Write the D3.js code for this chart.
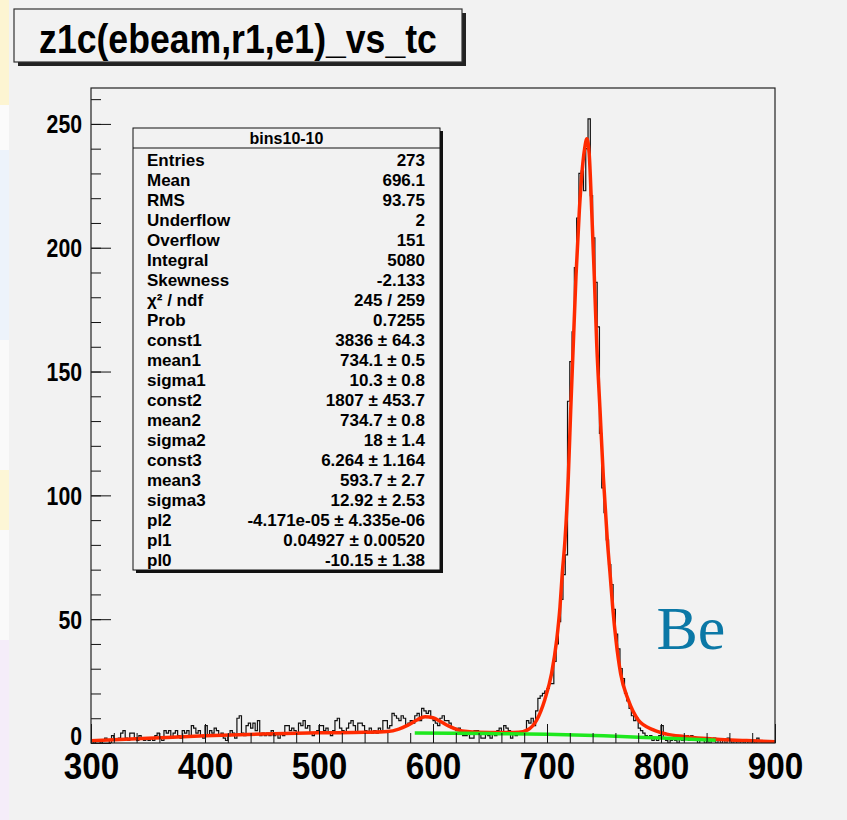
<!DOCTYPE html>
<html>
<head>
<meta charset="utf-8">
<script src="https://cdn.jsdelivr.net/npm/d3@7/dist/d3.min.js"></script>
<style>
  body { margin: 0; background: #fff; }
  text { font-family: 'Liberation Sans', Arial, Helvetica, sans-serif; }
</style>
</head>
<body>
<svg id="chart" width="847" height="820"></svg>
<script>
// histogram: 300 bins of width 2 between 300 and 900
const xMin = 300, xMax = 900, binWidth = 2;
const counts = [
  1,0,1,1,0,1,2,1,0,3,1,1,2,4,5,2,1,4,4,2,
  1,3,2,1,2,1,2,1,3,4,2,1,5,4,5,2,4,5,3,2,
  5,4,5,3,7,6,4,5,3,2,7,3,5,4,6,5,3,4,2,1,
  3,5,4,2,10,11,4,3,7,8,6,8,5,9,3,4,3,4,3,5,
  3,4,2,4,3,7,7,5,6,5,4,8,7,9,6,7,4,3,4,5,
  7,7,5,6,4,3,5,9,10,6,5,4,6,8,9,7,4,8,8,7,
  5,4,6,4,5,4,6,5,9,9,6,7,12,11,10,9,11,10,7,8,
  9,8,11,12,9,14,13,12,13,10,9,8,7,10,11,9,9,8,6,6,
  5,6,5,3,3,4,2,2,5,5,4,2,2,4,3,2,4,3,5,6,
  4,7,6,5,2,4,3,4,4,4,5,9,8,10,7,13,18,19,20,21,
  22,24,24,33,40,49,58,68,76,138,154,166,192,212,230,231,223,240,252,221,
  204,186,168,125,103,93,82,72,64,54,44,38,30,26,20,17,14,11,9,10,
  6,5,4,3,2,3,1,2,1,3,7,2,1,0,1,2,1,0,2,1,
  2,3,1,3,2,1,0,1,2,0,1,0,1,2,0,1,0,1,0,2,
  1,0,1,0,0,1,0,1,0,0,1,0,2,1,0,1,0,0,1,0
];

// total fit (red)
const fitX = [300, 350, 400, 450, 500, 540, 560, 570, 578, 586, 593, 600, 607, 614, 622, 630, 640, 660, 675, 683, 691, 698, 704, 708.5, 711.4, 713.4, 715.8, 718.7, 720.8, 723.1, 725.4, 728.4, 731, 733, 735, 737, 739.2, 741.5, 743.6, 746.5, 749.4, 752.9, 755.3, 757.6, 760.5, 764.6, 771.3, 780.1, 793.3, 805, 820, 849, 875, 900];
const fitY = [0.9, 1.9, 2.9, 3.6, 4.1, 4.3, 4.6, 5.6, 7.2, 9.3, 10.6, 10.2, 8.6, 6.8, 5.3, 4.6, 4.3, 4.2, 4.3, 5.3, 9.3, 17.4, 28, 41.6, 55, 68.5, 82, 107.6, 134.5, 161.4, 188.3, 215.3, 232, 240, 244, 238, 215.3, 188.3, 161.4, 134.5, 107.6, 82, 68.5, 55, 41.6, 28, 17.4, 9.3, 5.3, 3.6, 2.6, 1.5, 1.0, 0.5];

// background polynomial (green)
const bgX = [584, 650, 700, 750, 800, 848];
const bgY = [4.0, 3.8, 3.5, 2.9, 2.0, 1.1];

const xTicks = [300, 400, 500, 600, 700, 800, 900];
const yTicks = [0, 50, 100, 150, 200, 250];

const titleText = 'z1c(ebeam,r1,e1)_vs_tc';
const statsTitle = 'bins10-10';
const statLabels = ['Entries', 'Mean', 'RMS', 'Underflow', 'Overflow', 'Integral', 'Skewness', 'χ² / ndf', 'Prob',
  'const1', 'mean1', 'sigma1', 'const2', 'mean2', 'sigma2', 'const3', 'mean3', 'sigma3', 'pl2', 'pl1', 'pl0'];
const statValues = ['273', '696.1', '93.75', '2', '151', '5080', '-2.133', '245 / 259', '0.7255',
  '3836 ± 64.3', '734.1 ± 0.5', '10.3 ± 0.8', '1807 ± 453.7', '734.7 ± 0.8', '18 ± 1.4', '6.264 ± 1.164',
  '593.7 ± 2.7', '12.92 ± 2.53', '-4.171e-05 ± 4.335e-06', '0.04927 ± 0.00520', '-10.15 ± 1.38'];
const tagText = 'Be';

const svg = d3.select('#chart');
const bg = '#f2f2f2';

// slide background strip on the left
const stripes = [[0, 105, '#fdf5d2'], [105, 150, '#fbfbfb'], [150, 340, '#edf3fb'], [340, 470, '#fafafa'],
  [470, 530, '#fdf6d6'], [530, 640, '#fafafa'], [640, 820, '#f5edf9']];
svg.selectAll('.strip').data(stripes).enter().append('rect')
  .attr('x', 0).attr('y', d => d[0]).attr('width', 10).attr('height', d => d[1] - d[0]).attr('fill', d => d[2]);
svg.append('rect').attr('x', 9).attr('y', 0).attr('width', 838).attr('height', 820).attr('fill', bg);

const frame = { left: 91, right: 775, top: 88, bottom: 743 };
const x = d3.scaleLinear().domain([xMin, xMax]).range([frame.left, frame.right]);
const y = d3.scaleLinear().domain([0, 264.5]).range([frame.bottom, frame.top]);

svg.append('clipPath').attr('id', 'clip').append('rect')
  .attr('x', frame.left).attr('y', frame.top - 5)
  .attr('width', frame.right - frame.left).attr('height', frame.bottom - frame.top + 5);

// histogram outline
const histPts = counts.map((c, i) => [xMin + i * binWidth, c]);
histPts.push([xMax, counts[counts.length - 1]]);
svg.append('path')
  .attr('clip-path', 'url(#clip)')
  .attr('d', d3.line().x(d => x(d[0])).y(d => y(d[1])).curve(d3.curveStepAfter)(histPts))
  .attr('fill', 'none').attr('stroke', '#111').attr('stroke-width', 1.2);

// fit curves
const fitLine = d3.line().x(d => x(d[0])).y(d => y(d[1])).curve(d3.curveMonotoneX);
svg.append('path')
  .attr('clip-path', 'url(#clip)')
  .attr('d', fitLine(fitX.map((v, i) => [v, fitY[i]])))
  .attr('fill', 'none').attr('stroke', '#ff2a00').attr('stroke-width', 3.5).attr('stroke-linejoin', 'round');
svg.append('path')
  .attr('d', fitLine(bgX.map((v, i) => [v, bgY[i]])))
  .attr('fill', 'none').attr('stroke', '#1ee81e').attr('stroke-width', 3.5);

// axes
const xAxisG = svg.append('g').attr('transform', `translate(0,${frame.bottom})`);
xAxisG.append('g').call(d3.axisBottom(x).tickValues(d3.range(xMin, xMax + 1, 20)).tickSize(-10).tickFormat(''));
xAxisG.append('g').call(d3.axisBottom(x).tickValues(xTicks).tickSize(-19).tickPadding(0).tickFormat(d3.format('d')));
xAxisG.selectAll('.domain').remove();
xAxisG.selectAll('.tick line').attr('stroke', '#111');
xAxisG.selectAll('.tick text')
  .attr('y', 36).attr('dy', 0)
  .attr('transform', 'scale(0.9,1)')
  .style('font-size', '37px').style('font-weight', 'bold').attr('fill', '#000');

const yAxisG = svg.append('g').attr('transform', `translate(${frame.left},0)`);
yAxisG.append('g').call(d3.axisLeft(y).tickValues(d3.range(0, 261, 10)).tickSize(-10).tickFormat(''));
yAxisG.append('g').call(d3.axisLeft(y).tickValues(yTicks).tickSize(-20).tickPadding(0).tickFormat(d3.format('d')));
yAxisG.selectAll('.domain').remove();
yAxisG.selectAll('.tick line').attr('stroke', '#111');
yAxisG.selectAll('.tick text')
  .attr('x', -9 / 0.85).attr('dy', d => d === 0 ? '0.05em' : '0.36em')
  .attr('transform', 'scale(0.85,1)')
  .style('font-size', '25px').style('font-weight', 'bold').attr('fill', '#000');

// frame
svg.append('rect')
  .attr('x', frame.left).attr('y', frame.top)
  .attr('width', frame.right - frame.left).attr('height', frame.bottom - frame.top)
  .attr('fill', 'none').attr('stroke', '#222').attr('stroke-width', 1.2);

// title pave
const tb = { x: 14, y: 9, w: 448, h: 53 };
svg.append('rect').attr('x', tb.x + 4).attr('y', tb.y + 4).attr('width', tb.w).attr('height', tb.h).attr('fill', '#222');
svg.append('rect').attr('x', tb.x).attr('y', tb.y).attr('width', tb.w).attr('height', tb.h)
  .attr('fill', bg).attr('stroke', '#333').attr('stroke-width', 1.2);
svg.append('text').attr('x', (tb.x + tb.w / 2) / 0.89).attr('y', 53)
  .attr('transform', 'scale(0.89,1)')
  .attr('text-anchor', 'middle').style('font-size', '40px').style('font-weight', 'bold')
  .text(titleText);

// stats box
const sb = { x: 133, y: 128, w: 307, h: 442 };
svg.append('rect').attr('x', sb.x + 3).attr('y', sb.y + 3).attr('width', sb.w).attr('height', sb.h).attr('fill', '#111');
svg.append('rect').attr('x', sb.x).attr('y', sb.y).attr('width', sb.w).attr('height', sb.h)
  .attr('fill', bg).attr('stroke', '#111').attr('stroke-width', 1);
svg.append('line').attr('x1', sb.x).attr('x2', sb.x + sb.w).attr('y1', 148).attr('y2', 148)
  .attr('stroke', '#111').attr('stroke-width', 1);
svg.append('text').attr('x', sb.x + sb.w / 2).attr('y', 144).attr('text-anchor', 'middle')
  .style('font-size', '16px').style('font-weight', 'bold').text(statsTitle);
const rows = svg.append('g').selectAll('g').data(statLabels).enter().append('g')
  .attr('transform', (d, i) => `translate(0,${166 + i * 20})`);
rows.append('text').attr('x', 147).style('font-size', '17px').style('font-weight', 'bold').text(d => d);
rows.append('text').attr('x', 425).attr('text-anchor', 'end')
  .style('font-size', '17px').style('font-weight', 'bold').text((d, i) => statValues[i]);

// nucleus tag
svg.append('text').attr('x', x(796)).attr('y', y(38))
  .style('font-family', "'Liberation Serif', 'Times New Roman', serif").style('font-size', '62px')
  .attr('fill', '#0b78a6').text(tagText);
</script>
</body>
</html>
